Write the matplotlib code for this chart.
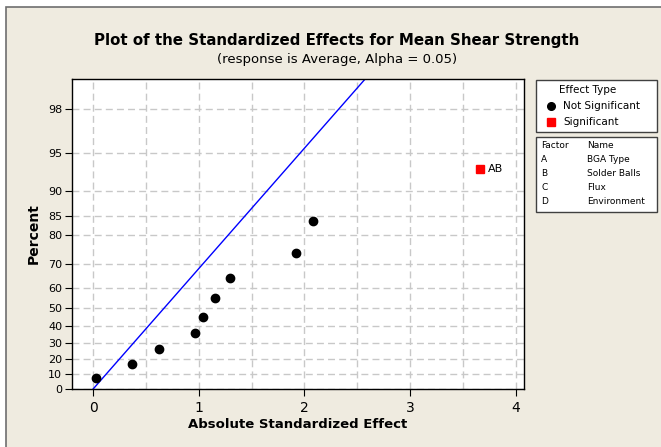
from statistics import NormalDist

import numpy as np
import matplotlib
matplotlib.use("Agg")
import matplotlib.pyplot as plt
from matplotlib.patches import Rectangle

# effects
effect_abs = [0.03, 0.37, 0.62, 0.96, 1.045, 1.156, 1.30, 1.92, 2.08]
effect_pct = [7.2, 16.5, 26.0, 35.8, 45.2, 54.9, 64.5, 74.0, 83.8]
sig_abs = [3.66]
sig_pct = [93.3]
sig_labels = ["AB"]

pct_ticks = [0, 10, 20, 30, 40, 50, 60, 70, 80, 85, 90, 95, 98]
x_ticks = [0, 1, 2, 3, 4]

factors = ["A", "B", "C", "D"]
factor_names = ["BGA Type", "Solder Balls", "Flux", "Environment"]

nd = NormalDist()
_inv = np.vectorize(nd.inv_cdf, otypes=[float])
_cdf = np.vectorize(nd.cdf, otypes=[float])


def half_normal(p):
    p = np.clip(np.asarray(p, dtype=float), -99.999, 99.999)
    return _inv(0.5 + p / 200.0)


def half_normal_inv(q):
    q = np.asarray(q, dtype=float)
    return (2 * _cdf(q) - 1) * 100.0


W, H = 661, 447
fig = plt.figure(figsize=(W / 100, H / 100), dpi=100)
fig.patch.set_facecolor("white")
fig.patches.append(Rectangle((6 / W, -0.1), 1.1, 1.1 - 7 / H, transform=fig.transFigure,
                             facecolor="#EFEBE0", edgecolor="#6e6e6e", lw=1.2, zorder=0))

ax = fig.add_axes([72 / W, 1 - 389 / H, (524 - 72) / W, (389 - 79) / H])
ax.set_zorder(2)
ax.set_facecolor("white")
ax.set_yscale("function", functions=(half_normal, half_normal_inv))
ax.set_xlim(-0.2, 4.08)
ax.set_ylim(0, 99.0)

ax.set_xticks(x_ticks)
ax.set_xticks(np.arange(0.5, 4.0, 1.0), minor=True)
ax.set_yticks(pct_ticks)
ax.set_yticklabels([str(t) for t in pct_ticks])
ax.yaxis.set_minor_locator(matplotlib.ticker.NullLocator())
ax.tick_params(axis="x", which="major", labelsize=10, length=5, direction="out")
ax.tick_params(axis="x", which="minor", length=0)
ax.tick_params(axis="y", labelsize=8, length=5, direction="out", pad=2)
ax.grid(True, which="both", color="#c8c8c8", ls=(0, (5, 3)), lw=1)
ax.set_axisbelow(True)
for s in ax.spines.values():
    s.set_color("black")
    s.set_linewidth(1)

# reference line (quantile = effect)
qmax = float(half_normal(99.0))
xs = np.linspace(0, qmax, 50)
ax.plot(xs, half_normal_inv(xs), color="blue", lw=1)

ax.plot(effect_abs, effect_pct, "o", color="black", ms=6, ls="none", zorder=3)
ax.plot(sig_abs, sig_pct, "s", color="red", ms=5.5, ls="none", zorder=3)
for x, y, lab in zip(sig_abs, sig_pct, sig_labels):
    ax.annotate(lab, (x, y), xytext=(6, 0), textcoords="offset points",
                va="center", ha="left", fontsize=8)

ax.set_xlabel("Absolute Standardized Effect", fontsize=9.5, fontweight="bold", labelpad=2)
ax.set_ylabel("Percent", fontsize=10, fontweight="bold", labelpad=5)

fig.text(337 / W, 1 - 40 / H, "Plot of the Standardized Effects for Mean Shear Strength",
         ha="center", va="center", fontsize=10.8, fontweight="bold")
fig.text(337 / W, 1 - 59 / H, "(response is Average, Alpha = 0.05)",
         ha="center", va="center", fontsize=9.5)

# legend boxes
fig.patches.append(Rectangle((536 / W, 1 - 132 / H), (657 - 536) / W, 52 / H,
                             transform=fig.transFigure, facecolor="white",
                             edgecolor="#404040", lw=1, zorder=1))
fig.patches.append(Rectangle((536 / W, 1 - 212 / H), (657 - 536) / W, 75 / H,
                             transform=fig.transFigure, facecolor="white",
                             edgecolor="#404040", lw=1, zorder=1))
fig.text(588 / W, 1 - 90 / H, "Effect Type", ha="center", va="center", fontsize=7.5)
fig.lines.append(plt.Line2D([551 / W], [1 - 106 / H], marker="o", color="black", ms=5.5,
                            transform=fig.transFigure))
fig.text(563 / W, 1 - 106 / H, "Not Significant", ha="left", va="center", fontsize=7.5)
fig.lines.append(plt.Line2D([551 / W], [1 - 122 / H], marker="s", color="red", ms=5.5,
                            transform=fig.transFigure))
fig.text(563 / W, 1 - 122 / H, "Significant", ha="left", va="center", fontsize=7.5)

fig.text(541 / W, 1 - 146 / H, "Factor", ha="left", va="center", fontsize=6.5)
fig.text(587 / W, 1 - 146 / H, "Name", ha="left", va="center", fontsize=6.5)
for i, (f, n) in enumerate(zip(factors, factor_names)):
    y = 1 - (159 + 14 * i) / H
    fig.text(541 / W, y, f, ha="left", va="center", fontsize=6.5)
    fig.text(587 / W, y, n, ha="left", va="center", fontsize=6.5)

fig.savefig("out.png", dpi=100, facecolor=fig.get_facecolor())
